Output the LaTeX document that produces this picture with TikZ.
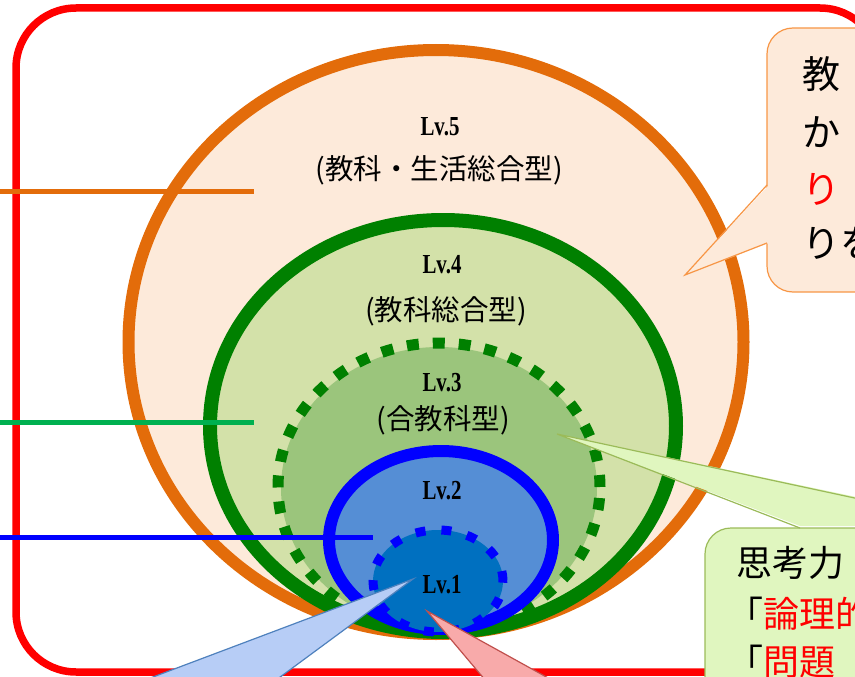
\documentclass[tikz,border=0pt]{standalone}
\usepackage{fontspec}
\newfontfamily\jp{Noto Sans CJK JP}
\newfontfamily\lvfont{Liberation Serif}
\usetikzlibrary{shapes.geometric}
\definecolor{frame}{HTML}{FF0000}
\definecolor{lvfiveline}{HTML}{E36C0A}
\definecolor{lvfivefill}{HTML}{FDEADA}
\definecolor{lvfourline}{HTML}{008000}
\definecolor{lvfourfill}{HTML}{D3E1A9}
\definecolor{lvthreefill}{HTML}{9BC57C}
\definecolor{lvtwofill}{HTML}{558ED5}
\definecolor{lvonefill}{HTML}{0070C0}
\definecolor{pureblue}{HTML}{0000FF}
\definecolor{greenline}{HTML}{00B050}
\definecolor{calloutorange}{HTML}{F79646}
\definecolor{calloutgreenfill}{HTML}{E0F6BF}
\definecolor{calloutgreenline}{HTML}{9BBB59}
\definecolor{ptrbluefill}{HTML}{B7CDF6}
\definecolor{ptrblueline}{HTML}{4F81BD}
\definecolor{ptrredfill}{HTML}{F8AAAA}
\definecolor{ptrredline}{HTML}{C0504D}
\newcommand{\lvtext}[1]{\scalebox{0.95}[1.25]{#1}}
\begin{document}
\begin{tikzpicture}[x=1pt,y=-1pt,
  ring/.style={ellipse, inner sep=0pt, outer sep=0pt},
  lvlab/.style={inner sep=0pt, font=\lvfont\bfseries\fontsize{22}{22}\selectfont},
  jplab/.style={inner sep=0pt, font=\jp\fontsize{28.5}{28.5}\selectfont},
  bigjp/.style={inner sep=0pt, anchor=west, font=\jp\fontsize{38}{38}\selectfont},
  midjp/.style={inner sep=0pt, anchor=west, font=\jp\fontsize{36}{36}\selectfont},
  sideline/.style={line width=5pt}
]
\useasboundingbox (0,0) rectangle (855,677);
\clip (0,0) rectangle (855,677);

% red frame
\draw[frame, line width=7.5pt, rounded corners=60pt] (16,8) rectangle (880,672);

% nested levels
\node[ring, draw=lvfiveline, fill=lvfivefill, line width=12pt,
      minimum width=615pt, minimum height=584pt] (lv5) at (436,342) {};
\node[ring, draw=lvfourline, fill=lvfourfill, line width=14pt,
      minimum width=466pt, minimum height=412pt] (lv4) at (443,426) {};
\node[ring, fill=lvthreefill, minimum width=316pt, minimum height=282pt] (lv3fill) at (439,488) {};
\node[ring, draw=lvfourline, line width=11pt, dash pattern=on 12pt off 14pt,
      minimum width=322pt, minimum height=288pt] (lv3) at (439,487) {};
\node[ring, draw=pureblue, fill=lvtwofill, line width=12pt,
      minimum width=224pt, minimum height=178pt] (lv2) at (441,540) {};
\node[ring, draw=pureblue, fill=lvonefill, line width=9pt, dash pattern=on 10pt off 16pt,
      minimum width=130pt, minimum height=102pt] (lv1) at (438,581) {};

% side lines
\coordinate (oL) at (0,191);
\coordinate (oR) at (254,191);
\coordinate (gL) at (0,422);
\coordinate (gR) at (254,422);
\coordinate (bL) at (0,537);
\coordinate (bR) at (373,537);
\draw[sideline, lvfiveline] (oL) -- (oR);
\draw[sideline, greenline] (gL) -- (gR);
\draw[sideline, pureblue] (bL) -- (bR);

% labels
\node[lvlab] (t5) at (440,127) {\lvtext{Lv.5}};
\node[jplab] (j5) at (439,170) {(教科・生活総合型)};
\node[lvlab] (t4) at (442,265) {\lvtext{Lv.4}};
\node[jplab] (j4) at (446,311) {(教科総合型)};
\node[lvlab] (t3) at (442,383) {\lvtext{Lv.3}};
\node[jplab] (j3) at (443,420) {(合教科型)};
\node[lvlab] (t2) at (442,491) {\lvtext{Lv.2}};
\node[lvlab] (t1) at (442,585) {\lvtext{Lv.1}};

% orange callout (top right)
\node[draw=calloutorange, fill=lvfivefill, line width=1.2pt, rounded corners=26pt,
      minimum width=160pt, minimum height=264pt, inner sep=0pt] (cbox) at (847,160) {};
\coordinate (ctip) at (685,275);
\coordinate (cb1) at (767,185);
\coordinate (cb2) at (767,243);
\fill[lvfivefill] (ctip) -- ([xshift=2pt]cb1) -- ([xshift=2pt]cb2) -- cycle;
\draw[calloutorange, line width=1.2pt] (cb1) -- (ctip) -- (cb2);
\node[bigjp] (c1) at (802,74) {教};
\node[bigjp] (c2) at (802,132) {か};
\node[bigjp, text=frame] (c3) at (802,189) {り};
\node[bigjp] (c4) at (802,243) {りを};

% green callout (bottom right)
\node[draw=calloutgreenline, fill=calloutgreenfill, line width=1.2pt, rounded corners=26pt,
      minimum width=300pt, minimum height=300pt, inner sep=0pt] (gbox) at (855,678) {};
\coordinate (gtip) at (557,434);
\coordinate (gb1) at (800,528);
\coordinate (gb2) at (994,528);
\fill[calloutgreenfill] (gtip) -- ([yshift=2pt]gb1) -- ([yshift=2pt]gb2) -- cycle;
\draw[calloutgreenline, line width=1.2pt] (gb1) -- (gtip) -- (gb2);
\node[midjp] (g1) at (736,563) {思考力};
\node[midjp] (g2) at (727,614) {「\textcolor{frame}{論理的}};
\node[midjp] (g3) at (727,662) {「\textcolor{frame}{問題}};

% blue pointer
\coordinate (btip) at (413,579);
\coordinate (bb1) at (92,700);
\coordinate (bb2) at (249,700);
\draw[ptrblueline, fill=ptrbluefill, line width=1.2pt] (bb1) -- (btip) -- (bb2);
% red pointer
\coordinate (rtip) at (427,611);
\coordinate (rb1) at (502,700);
\coordinate (rb2) at (588,700);
\draw[ptrredline, fill=ptrredfill, line width=1.2pt] (rb1) -- (rtip) -- (rb2);
\end{tikzpicture}
\end{document}
